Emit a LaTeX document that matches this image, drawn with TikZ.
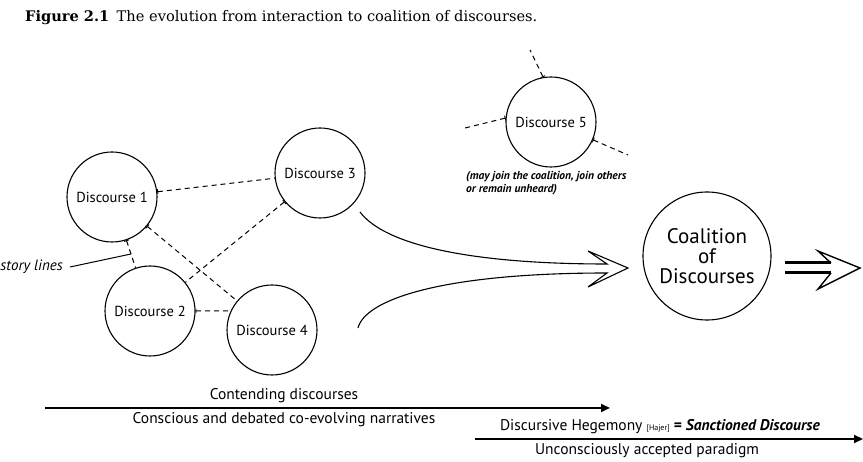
\documentclass[tikz,border=0pt]{standalone}
\usepackage{fontspec}
\setsansfont{PT Sans}
\newfontfamily\titlefont{DejaVu Serif}
\usetikzlibrary{arrows.meta}
\begin{document}
\begin{tikzpicture}[x=1pt,y=-1pt,
  disc/.style={circle,draw,line width=1.1pt,minimum size=90pt,inner sep=0pt,
    font=\sffamily\fontsize{14.5}{16}\selectfont},
  link/.style={line width=1pt,dash pattern=on 5pt off 4pt},
  barstart/.style={{Bar[width=5pt,line width=0.9pt]}-},
  lbl/.style={font=\sffamily\fontsize{15.5}{17}\selectfont,inner sep=0pt},
  bigarrow/.style={line width=2.6pt,-{Triangle[length=9pt,width=8pt]}},
  outline/.style={line width=1.1pt,line join=miter}]
\useasboundingbox (0,0) rectangle (863,462);

% title
\node[font=\titlefont\fontsize{14.6}{17}\selectfont,anchor=base west,inner sep=0pt] (title) at (25,22)
  {\textbf{Figure 2.1}\enspace The evolution from interaction to coalition of discourses.};

% discourse circles
\node[disc] (d1) at (112,197) {Discourse 1};
\node[disc] (d2) at (150,311) {Discourse 2};
\node[disc] (d3) at (320,173) {Discourse 3};
\node[disc] (d4) at (272,330) {Discourse 4};
\node[disc] (d5) at (551,122) {Discourse 5};
\node[disc,minimum size=128pt,align=center,font=\sffamily\fontsize{21}{20}\selectfont] (coal) at (707,256)
  {Coalition\\of\\Discourses};

% dashed interactions
\draw[link,barstart] (d1) -- (d3);
\draw[link,barstart] (d1) -- (d4);
\draw[link,barstart] (d3) -- (d2);
\draw[link,barstart] (d1) -- coordinate[pos=0.5] (p12) (d2);
\draw[link,barstart] (d2.east) -- (d4.155);

% discourse 5 loose ends
\coordinate (e5a) at (530,50);
\coordinate (e5b) at (465,128);
\coordinate (e5c) at (628,155);
\draw[link,barstart] (d5.100) -- (e5a);
\draw[link,barstart] (d5.175) -- (e5b);
\draw[link,barstart] (d5.-23) -- (e5c);

\node[anchor=north west,align=left,inner sep=0pt,
  font=\sffamily\bfseries\itshape\fontsize{11.5}{13}\selectfont] (note) at (466,171)
  {(may join the coalition, join others\\or remain unheard)};

% story lines
\node[anchor=east,inner sep=0pt,font=\sffamily\itshape\fontsize{15}{17}\selectfont] (sl) at (63,267) {story lines};
\draw[line width=1pt] ([xshift=7pt]sl.east) -- (p12);

% curved hollow arrow into the coalition
\coordinate (c1s) at (360,212);
\coordinate (c2s) at (358,328);
\coordinate (hj1) at (607,264);
\coordinate (hj2) at (607,273);
\coordinate (hb1) at (588,251);
\coordinate (htip) at (628,268);
\coordinate (hb2) at (588,287);
\draw[outline] (c1s) .. controls (385,245) and (470,264) .. (hj1)
  -- (hb1) -- (htip) -- (hb2) -- (hj2)
  .. controls (440,273) and (365,300) .. (c2s);

% outgoing double arrow
\coordinate (o1s) at (785,263);
\coordinate (o1e) at (831,263);
\coordinate (o2s) at (785,273);
\coordinate (o2e) at (831,273);
\coordinate (ob1) at (818,251);
\coordinate (otip) at (860,268);
\coordinate (ob2) at (818,289);
\draw[line width=3pt] (o1s) -- (o1e);
\draw[line width=3pt] (o2s) -- (o2e);
\draw[outline,line width=1.4pt] (o1e) -- (ob1) -- (otip) -- (ob2) -- (o2e);

% bottom time arrows
\coordinate (a1s) at (45,408);
\coordinate (a1e) at (610,408);
\draw[bigarrow] (a1s) -- (a1e);
\node[lbl] (cd) at (284,396) {Contending discourses};
\node[lbl] (cn) at (284,420) {Conscious and debated co-evolving narratives};

\coordinate (a2s) at (475,439);
\coordinate (a2e) at (863,439);
\draw[bigarrow] (a2s) -- (a2e);
\node[lbl] (dh) at (660,427) {Discursive Hegemony {\fontsize{8}{9}\selectfont [Hajer]} \textbf{= \textit{Sanctioned Discourse}}};
\node[lbl] (up) at (647,451) {Unconsciously accepted paradigm};
\end{tikzpicture}
\end{document}
